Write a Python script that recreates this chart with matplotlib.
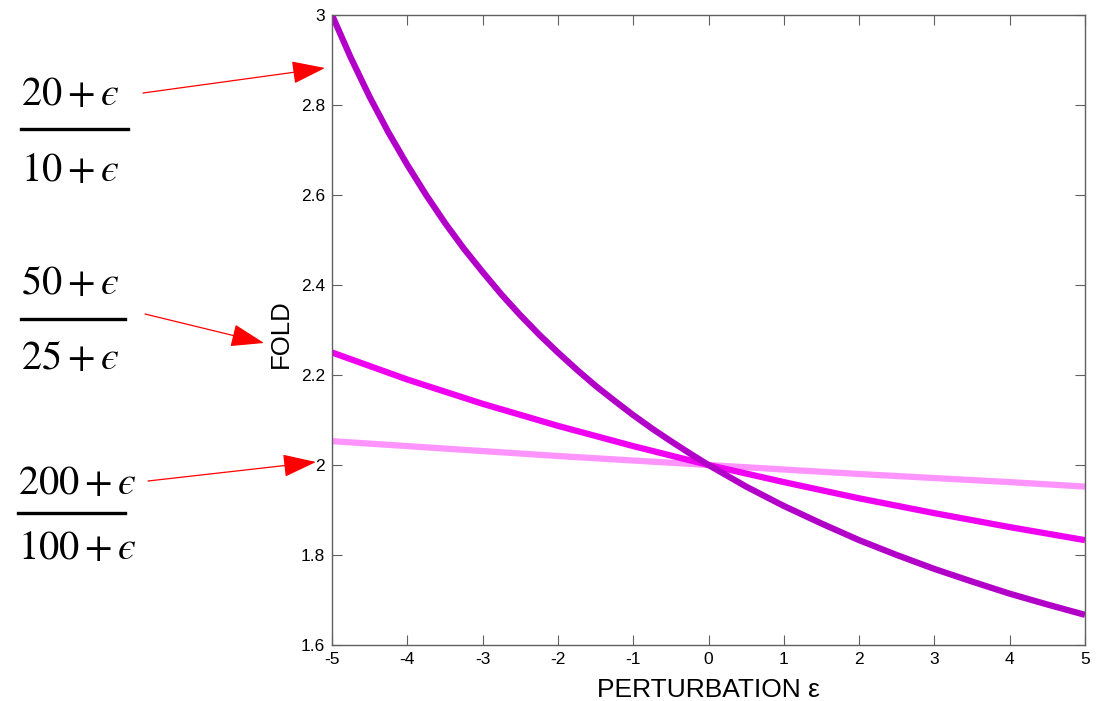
import matplotlib.pyplot as plt
import numpy as np
from matplotlib.lines import Line2D
from matplotlib.patches import FancyArrowPatch, ArrowStyle

# --- data ---
eps_fine = [-5, -4.75, -4.5, -4.25, -4, -3.75, -3.5, -3.25, -3, -2.75, -2.5, -2.25,
            -2, -1.75, -1.5, -1.25, -1, -0.75, -0.5, -0.25, 0,
            0.5, 1, 1.5, 2, 2.5, 3, 3.5, 4, 4.5, 5]
fold_20_10 = [3.000, 2.905, 2.818, 2.739, 2.667, 2.600, 2.538, 2.481, 2.429, 2.379, 2.333, 2.290,
              2.250, 2.212, 2.176, 2.143, 2.111, 2.081, 2.053, 2.026, 2.000,
              1.952, 1.909, 1.870, 1.833, 1.800, 1.769, 1.741, 1.714, 1.690, 1.667]

eps_int = [-5, -4, -3, -2, -1, 0, 1, 2, 3, 4, 5]
fold_50_25 = [2.250, 2.190, 2.136, 2.087, 2.042, 2.000, 1.962, 1.926, 1.893, 1.862, 1.833]
fold_200_100 = [2.053, 2.042, 2.031, 2.020, 2.010, 2.000, 1.990, 1.980, 1.971, 1.962, 1.952]

x_ticks = [-5, -4, -3, -2, -1, 0, 1, 2, 3, 4, 5]
y_ticks = [1.6, 1.8, 2.0, 2.2, 2.4, 2.6, 2.8, 3.0]
y_tick_labels = ['1.6', '1.8', '2', '2.2', '2.4', '2.6', '2.8', '3']

fractions = [('$20+\u03f5$', '$10+\u03f5$'),
             ('$50+\u03f5$', '$25+\u03f5$'),
             ('$200+\u03f5$', '$100+\u03f5$')]

plt.rcParams['font.family'] = ['Liberation Sans', 'DejaVu Sans']
plt.rcParams['mathtext.fontset'] = 'stix'

W, H = 1103, 701
fig = plt.figure(figsize=(W / 100, H / 100), dpi=100)
ax = fig.add_axes([332 / W, 1 - 645 / H, (1085 - 332) / W, (645 - 15) / H])

ax.plot(eps_int, fold_200_100, color='#ff94ff', linewidth=4.5, solid_capstyle='butt')
ax.plot(eps_int, fold_50_25, color='#f000f0', linewidth=4.5, solid_capstyle='butt')
ax.plot(eps_fine, fold_20_10, color='#b200c8', linewidth=4.5, solid_capstyle='butt')

ax.set_xlim(-5, 5)
ax.set_ylim(1.6, 3.0)
ax.set_xticks(x_ticks)
ax.set_xticklabels([str(v) for v in x_ticks])
ax.set_yticks(y_ticks)
ax.set_yticklabels(y_tick_labels)
ax.tick_params(direction='in', length=7, width=0.8, color='#606060',
               top=True, right=True, labelsize=12.5, pad=5)
for s in ax.spines.values():
    s.set_color('#606060')
    s.set_linewidth(1)

ax.set_xlabel('PERTURBATION ε', fontsize=19, labelpad=8)
ax.set_ylabel('FOLD', fontsize=18.5)
ax.yaxis.set_label_coords(-0.052, 0.494)

# --- fraction annotations on the left ---
tf = fig.transFigure
frac_layout = [(21, 94, 129, 170, 128), (21, 283, 319, 358, 125), (18, 483, 513, 548, 125)]
for (num, den), (x0, ynum, ybar, yden, x1) in zip(fractions, frac_layout):
    fig.text(x0 / W, 1 - ynum / H, num, fontsize=29, ha='left', va='center')
    fig.text(x0 / W, 1 - yden / H, den, fontsize=29, ha='left', va='center')
    fig.add_artist(Line2D([x0 / W, x1 / W], [1 - ybar / H, 1 - ybar / H],
                          color='black', linewidth=2.4, transform=tf))

arrows = [((143, 93), (325, 68)), ((145, 314), (264, 343)), ((148, 481), (316, 462))]
style = ArrowStyle('-|>', head_length=1.05, head_width=0.36)
for (xa, ya), (xb, yb) in arrows:
    fig.add_artist(FancyArrowPatch((xa / W, 1 - ya / H), (xb / W, 1 - yb / H),
                                   transform=tf, arrowstyle=style, mutation_scale=20,
                                   color='red', linewidth=0.9, shrinkA=0, shrinkB=0))

fig.savefig('out.png', dpi=100)
